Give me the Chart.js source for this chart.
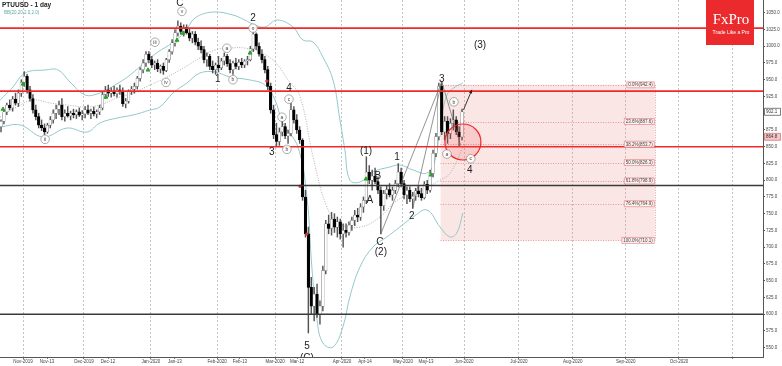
<!DOCTYPE html>
<html><head><meta charset="utf-8">
<script src="https://cdn.jsdelivr.net/npm/chart.js@4.4.0/dist/chart.umd.min.js"></script>
<style>html,body{margin:0;padding:0;background:#fff;overflow:hidden}canvas{display:block}</style>
</head><body>
<canvas id="c" width="782" height="366"></canvas>
<script>
// ---- Daily candles (index = trading-day slot) ----
const candleOpen = [880,888,902,912,908,921,915,930,946,955,935,922,905,895,882,878,872,882,890,900,906,912,895,900,896,900,898,902,897,899,905,900,903,899,902,908,928,935,930,933,929,935,932,914,918,932,936,940,952,965,975,988,980,972,975,966,970,964,980,992,1005,1020,1030,1022,1028,1020,1012,1018,1006,1000,995,980,985,970,965,972,968,978,985,974,965,975,970,976,972,978,980,996,1018,1000,988,980,965,940,905,868,858,872,880,866,870,905,890,875,860,775,720,640,612,630,600,612,665,735,728,742,730,738,720,725,722,733,740,748,745,760,770,812,800,806,798,785,762,780,786,778,785,795,812,795,778,785,772,776,784,780,774,794,785,810,840,865,940,872,888,870,885,890,872,864.8];
const candleHigh = [890,905,915,920,925,930,935,950,962,958,940,928,912,900,890,884,885,895,905,912,918,922,905,910,903,906,905,908,904,910,912,906,909,905,912,932,940,942,938,940,938,942,938,922,935,940,945,955,968,980,992,992,985,978,980,972,975,982,995,1010,1025,1038,1035,1032,1032,1026,1022,1022,1012,1008,1000,990,988,978,975,985,982,990,988,980,978,982,980,982,980,985,1000,1022,1020,1005,995,985,970,945,912,885,878,888,885,875,915,910,898,880,862,785,730,655,640,645,620,672,740,748,752,750,745,742,735,735,738,745,755,758,765,775,835,822,815,818,805,790,785,792,795,790,800,825,818,800,790,790,782,788,792,788,798,800,815,845,870,945,947,895,895,892,905,895,880,906];
const candleLow = [872,884,898,905,903,912,910,925,940,930,918,900,890,878,874,868,870,878,885,892,898,890,888,894,890,893,892,895,890,893,898,892,896,893,898,905,922,925,924,926,924,928,910,908,915,928,930,936,948,960,970,975,968,965,962,960,958,962,976,988,1000,1015,1018,1015,1018,1008,1005,1002,995,990,975,970,965,960,958,962,965,972,970,960,958,966,965,968,968,972,978,992,995,985,975,960,935,900,862,850,852,866,862,855,866,885,870,855,770,715,572,600,590,595,585,605,660,720,718,722,715,712,700,715,718,725,732,738,740,752,765,795,785,795,780,720,755,772,775,770,780,790,790,772,765,768,758,770,775,770,772,780,782,805,835,860,868,860,855,862,875,868,850,860];
const candleClose = [888,902,912,908,921,915,930,946,955,935,922,905,895,882,878,872,882,890,900,906,912,895,900,896,900,898,902,897,899,905,900,903,899,902,908,928,935,930,933,929,935,932,914,918,932,936,940,952,965,975,988,980,972,975,966,970,964,980,992,1005,1020,1030,1022,1028,1020,1012,1018,1006,1000,995,980,985,970,965,972,968,978,985,974,965,975,970,976,972,978,980,996,1018,1000,988,980,965,940,905,868,858,872,880,866,870,905,890,875,860,775,720,640,612,630,600,612,665,735,728,742,730,738,720,725,722,733,740,748,745,760,770,812,800,806,798,785,762,780,786,778,785,795,812,795,778,785,772,776,784,780,774,794,785,810,840,865,940,872,888,870,885,890,872,865,902.1];

// ---- Bollinger bands (slot, price) ----
const bbUpperX = [-0.3,3.8,8.3,15.2,19.7,23.8,29,34.1,39.3,44.5,49.7,54.1,59,63.4,66.9,73.1,80,84.1,87.6,91,95.2,100.7,104.1,107.6,111,114.5,116.9,118.6,120.3,123.8,128.3,134.1,137.6,142.1,146.9,149.7,151.4,153.8,156.6,159.3];
const bbUpperY = [919.7,937.6,960,964.5,964.5,946.6,927.2,930.2,942.1,957,976.4,991.3,1004.8,1021.2,1042.1,1051,1046.6,1039.1,1031.6,1028.7,1039.1,1028.7,1009.3,1006.3,983.9,949.6,889.9,845.1,800.3,797.3,812.3,819.7,822.7,815.2,810.7,830.1,879.4,927.2,939.1,945.1];
const bbLowerX = [-0.3,6.6,14.5,22.8,29.7,34.1,40,45.5,51.4,54.8,59.3,64.1,68.6,73.8,79,85.9,91,94.5,97.2,102.4,105.5,107.2,109,111,114.5,117.9,120.3,123.8,128.3,133.1,137.6,142.1,146.9,151.4,154.8,157.2,159.3];
const bbLowerY = [879.4,882.4,864.5,877.9,871.9,885.4,892.8,897.3,904.8,909.3,930.2,945.1,960,961.5,954,949.6,942.1,919.7,885.4,849.6,775,670.5,591.4,557,551,580.9,625.7,670.5,700.3,715.3,730.2,745.1,755.6,730.2,715.3,721.2,751.1];
const bbMidX = [-0.3,4.8,11,16.9,22.8,29,34.1,40,45.5,51.4,56.6,61.7,68.6,73.8,79,84.1,89.3,94.5,99,103.1,107.6,112.4,116.9,123.8,130.7,136.6,143.4,151.4,154.8,159.3];
const bbMidY = [894.3,907.8,919.7,915.2,912.2,909.3,912.2,922.7,930.2,942.1,952.5,964.5,982.4,994.3,997.3,997.3,991.3,976.4,949.6,925,835,760,735,730,745,770,781,800,810,849.6];

// ---- Signal markers ----
const buySigX = [0.7,7.6,36.2,50.7,60.7,62.8,85.9,125.9,148.3];
const buySigY = [906,943.6,924,964.5,1009,1019.7,989.9,801.8,807.8];
const sellSigX = [91.7,103.1,105.5];
const sellSigY = [948,791,719.6];

// ---- Axes ----
const xTickPos = [7.6,15.9,28.6,36.9,51.7,60,74.5,82.4,94.5,102.1,117.6,125.5,138.6,146.6,159.7,178.6,197.2,215.5,233.8,252.4];
const xTickLabels = ['Nov-2019','Nov-13','Dec-2019','Dec-12','Jan-2020','Jan-13','Feb-2020','Feb-13','Mar-2020','Mar-12','Apr-2020','Apr-14','May-2020','May-13','Jun-2020','Jul-2020','Aug-2020','Sep-2020','Oct-2020',''];
const xTickIsMonth = [1,0,1,0,1,0,1,0,1,0,1,0,1,0,1,1,1,1,1,1];
const yTickValues = [550,575,600,625,650,675,700,725,750,775,800,825,850,875,900,925,950,975,1000,1025,1050];

// ---- Levels & Fibonacci ----
const redLevels = [1027,933,850];
const blackLevels = [792,600];
const fibPct = ['0.0%','23.6%','38.2%','50.0%','61.8%','76.4%','100.0%'];
const fibVals = [942.4,887.6,853.7,826.3,798.9,764.9,710.1];
const fibFrom = 151.6, fibTo = 225.5;
const lastPrice = 902.1, refPrice = 864.8;

// ---- Elliott wave annotations ----
const waveText = [['C',61.7,1064],['2',86.9,1042],['1',74.8,950],['4',99.3,938],['3',93.4,841],['5',105.5,551.5],['(C)',105.5,534],
  ['(1)',125.9,843],['A',127.2,770],['B',130,806],['C',130.7,707],['(2)',131,692],['1',136.6,835],['2',141.7,746],['3',152,951],['4',161.7,815]];
const waveCircles = [['ii',15.2,861],['iii',53.1,1006],['iv',56.9,946],['v',62.4,1052],['x',86.9,1027],['a',77.9,997],['b',80,950],
  ['a',96.9,894],['b',98.6,846],['c',99.3,921],['a',153.8,839],['b',156.2,917],['c',162,832]];
const waveLines = [[131,720,152,947],[142,758,152,947],[152,947,158.5,852]];
const arrowFrom = [159.5,905], arrowTo = [162.4,935];
const focusCircle = [159.3,857];

const F = '"Liberation Sans", Arial, sans-serif';

const annot = {
  id: 'annot',
  beforeDatasetsDraw(chart) {
    const {ctx, chartArea: a, scales: {x, y}} = chart;
    ctx.save();
    const x0 = x.getPixelForValue(fibFrom), x1 = x.getPixelForValue(fibTo);
    const yt = y.getPixelForValue(fibVals[0]), yb = y.getPixelForValue(fibVals[fibVals.length - 1]);
    ctx.fillStyle = 'rgba(235,140,140,0.22)';
    ctx.fillRect(x0, yt, x1 - x0, yb - yt);
    ctx.setLineDash([1, 1.5]);
    ctx.strokeStyle = 'rgba(215,90,90,0.75)';
    ctx.lineWidth = 0.8;
    fibVals.forEach(v => {
      const yy = Math.round(y.getPixelForValue(v)) + 0.5;
      ctx.beginPath(); ctx.moveTo(x0, yy); ctx.lineTo(x1, yy); ctx.stroke();
    });
    ctx.beginPath(); ctx.moveTo(Math.round(x1) + 0.5, yt); ctx.lineTo(Math.round(x1) + 0.5, yb); ctx.stroke();
    ctx.restore();
  },
  afterDatasetsDraw(chart) {
    const {ctx, chartArea: a, scales: {x, y}} = chart;
    const X = v => x.getPixelForValue(v), Y = v => y.getPixelForValue(v);
    ctx.save();
    ctx.beginPath(); ctx.rect(a.left, a.top, a.right - a.left, a.bottom - a.top); ctx.clip();
    ctx.lineWidth = 1.6;
    ctx.strokeStyle = '#f02a2a';
    redLevels.forEach(v => { const yy = Y(v); ctx.beginPath(); ctx.moveTo(a.left, yy); ctx.lineTo(a.right, yy); ctx.stroke(); });
    ctx.strokeStyle = '#3a3a3a';
    blackLevels.forEach(v => { const yy = Y(v); ctx.beginPath(); ctx.moveTo(a.left, yy); ctx.lineTo(a.right, yy); ctx.stroke(); });
    ctx.font = '4.5px ' + F;
    ctx.textBaseline = 'middle'; ctx.textAlign = 'right';
    const x1 = X(fibTo);
    fibVals.forEach((v, i) => {
      const t = fibPct[i] + '(' + v.toFixed(1) + ')';
      const w = ctx.measureText(t).width + 3;
      const yy = Y(v);
      ctx.fillStyle = 'rgba(255,240,240,0.95)';
      ctx.strokeStyle = 'rgba(215,90,90,0.8)'; ctx.lineWidth = 0.6;
      ctx.beginPath(); ctx.rect(x1 - w - 0.5, yy - 3, w, 6); ctx.fill(); ctx.stroke();
      ctx.fillStyle = '#444';
      ctx.fillText(t, x1 - 2, yy + 0.3);
    });
    ctx.strokeStyle = '#666'; ctx.lineWidth = 0.7;
    waveLines.forEach(l => { ctx.beginPath(); ctx.moveTo(X(l[0]), Y(l[1])); ctx.lineTo(X(l[2]), Y(l[3])); ctx.stroke(); });
    const ax0 = X(arrowFrom[0]), ay0 = Y(arrowFrom[1]), ax1 = X(arrowTo[0]), ay1 = Y(arrowTo[1]);
    ctx.strokeStyle = '#222'; ctx.lineWidth = 0.9;
    ctx.beginPath(); ctx.moveTo(ax0, ay0); ctx.lineTo(ax1, ay1); ctx.stroke();
    const ang = Math.atan2(ay1 - ay0, ax1 - ax0);
    ctx.fillStyle = '#222';
    ctx.beginPath(); ctx.moveTo(ax1, ay1);
    ctx.lineTo(ax1 - 4 * Math.cos(ang - 0.45), ay1 - 4 * Math.sin(ang - 0.45));
    ctx.lineTo(ax1 - 4 * Math.cos(ang + 0.45), ay1 - 4 * Math.sin(ang + 0.45));
    ctx.closePath(); ctx.fill();
    ctx.beginPath(); ctx.arc(X(focusCircle[0]), Y(focusCircle[1]), 18, 0, Math.PI * 2);
    ctx.fillStyle = 'rgba(240,60,60,0.16)'; ctx.fill();
    ctx.strokeStyle = '#ec2a2a'; ctx.lineWidth = 1.2; ctx.stroke();
    waveCircles.forEach(c => {
      const cx = X(c[1]), cy = Y(c[2]);
      ctx.beginPath(); ctx.arc(cx, cy, 4.3, 0, Math.PI * 2);
      ctx.fillStyle = 'rgba(255,255,255,0.9)'; ctx.fill();
      ctx.strokeStyle = '#777'; ctx.lineWidth = 0.6; ctx.stroke();
      ctx.fillStyle = '#444'; ctx.font = '5px ' + F; ctx.textAlign = 'center';
      ctx.fillText(c[0], cx, cy + 0.3);
    });
    ctx.fillStyle = '#222'; ctx.font = '10px ' + F; ctx.textAlign = 'center';
    waveText.forEach(t => ctx.fillText(t[0], X(t[1]), Y(t[2])));
    ctx.fillText('(3)', X(165.2), Y(1002));
    ctx.restore();
  },
  afterDraw(chart) {
    const {ctx, scales: {y}} = chart;
    ctx.save();
    ctx.textBaseline = 'middle'; ctx.textAlign = 'left';
    ctx.fillStyle = '#222'; ctx.font = 'bold 6.5px ' + F;
    ctx.fillText('PTUUSD - 1 day', 2, 5);
    ctx.fillStyle = '#5aa6aa'; ctx.font = '4.5px ' + F;
    ctx.fillText('BB(20,20,2.0,2.0)', 4, 13);
    ctx.fillStyle = '#ea2a2c';
    ctx.fillRect(706, 0, 48, 45);
    ctx.fillStyle = '#fff'; ctx.textAlign = 'center';
    ctx.font = '15px "Liberation Serif", "DejaVu Serif", serif';
    ctx.fillText('FxPro', 731, 20);
    ctx.font = '5px ' + F;
    ctx.fillText('Trade Like a Pro', 731, 33);
    const box = (v, fill, stroke) => {
      const yy = y.getPixelForValue(v);
      ctx.fillStyle = fill; ctx.strokeStyle = stroke; ctx.lineWidth = 0.7;
      ctx.beginPath(); ctx.rect(764.5, yy - 3.5, 16, 7); ctx.fill(); ctx.stroke();
      ctx.fillStyle = '#333'; ctx.font = '4.5px ' + F; ctx.textAlign = 'left';
      ctx.fillText(v.toFixed(1), 766, yy + 0.3);
    };
    box(lastPrice, '#ffffff', '#444');
    box(refPrice, '#f4c6c6', '#d46a6a');
    ctx.restore();
  }
};

const bodyFill = candleClose.map((c, i) => c >= candleOpen[i] ? '#ffffff' : '#000000');
const bodyStroke = candleClose.map((c, i) => c >= candleOpen[i] ? '#666666' : '#000000');

new Chart(document.getElementById('c'), {
  type: 'bar',
  data: {
    datasets: [
      { type: 'line', data: buySigX.map((v, i) => ({x: v, y: buySigY[i]})), showLine: false, pointStyle: 'triangle',
        pointRadius: 2.2, pointBackgroundColor: '#2ca02c', pointBorderColor: '#2ca02c', order: 0 },
      { type: 'line', data: sellSigX.map((v, i) => ({x: v, y: sellSigY[i]})), showLine: false, pointStyle: 'rect',
        pointRadius: 1.4, pointBackgroundColor: '#e03030', pointBorderColor: '#e03030', order: 0 },
      { label: 'body', data: candleOpen.map((o, i) => ({x: i, y: [o, candleClose[i]]})), backgroundColor: bodyFill,
        borderColor: bodyStroke, borderWidth: 0.5, borderSkipped: false, barThickness: 2.6, grouped: false, order: 1 },
      { label: 'wick', data: candleLow.map((l, i) => ({x: i, y: [l, candleHigh[i]]})), backgroundColor: '#555',
        borderWidth: 0, barThickness: 0.8, grouped: false, order: 2 },
      { type: 'line', data: bbUpperX.map((v, i) => ({x: v, y: bbUpperY[i]})), borderColor: '#93c8cb', borderWidth: 1,
        pointRadius: 0, tension: 0.4, order: 3 },
      { type: 'line', data: bbLowerX.map((v, i) => ({x: v, y: bbLowerY[i]})), borderColor: '#93c8cb', borderWidth: 1,
        pointRadius: 0, tension: 0.4, order: 3 },
      { type: 'line', data: bbMidX.map((v, i) => ({x: v, y: bbMidY[i]})), borderColor: '#9a9a9a', borderWidth: 0.8,
        borderDash: [1, 1.5], pointRadius: 0, tension: 0.4, order: 3 }
    ]
  },
  options: {
    responsive: false, animation: false, devicePixelRatio: 1, events: [],
    layout: { padding: 0, autoPadding: false },
    plugins: { legend: { display: false }, tooltip: { enabled: false } },
    scales: {
      x: {
        type: 'linear', min: -0.35, max: 262.8, offset: false,
        afterBuildTicks: s => { s.ticks = xTickPos.map(v => ({value: v})); },
        afterFit: s => { s.height = 9; s.paddingLeft = 0; s.paddingRight = 0; },
        ticks: { autoSkip: false, maxRotation: 0, minRotation: 0, padding: 0, color: '#444',
          font: { size: 4.5, family: F }, callback: (v, i) => xTickLabels[i] },
        grid: { offset: false, color: c => xTickIsMonth[c.index] ? '#b5b5b5' : 'rgba(0,0,0,0)', lineWidth: 0.8,
          tickColor: '#555', tickLength: 2 },
        border: { display: true, color: '#555', width: 1, dash: [2, 2] }
      },
      y: {
        type: 'linear', position: 'right', min: 536.1, max: 1069,
        afterBuildTicks: s => { s.ticks = yTickValues.map(v => ({value: v})); },
        afterFit: s => { s.width = 19; s.paddingTop = 0; s.paddingBottom = 0; },
        ticks: { padding: 1, color: '#444', font: { size: 4.5, family: F }, callback: v => Number(v).toFixed(1) },
        grid: { drawOnChartArea: false, tickLength: 2, tickColor: '#555' },
        border: { display: true, color: '#555', width: 1 }
      }
    }
  },
  plugins: [annot]
});
</script>
</body></html>
